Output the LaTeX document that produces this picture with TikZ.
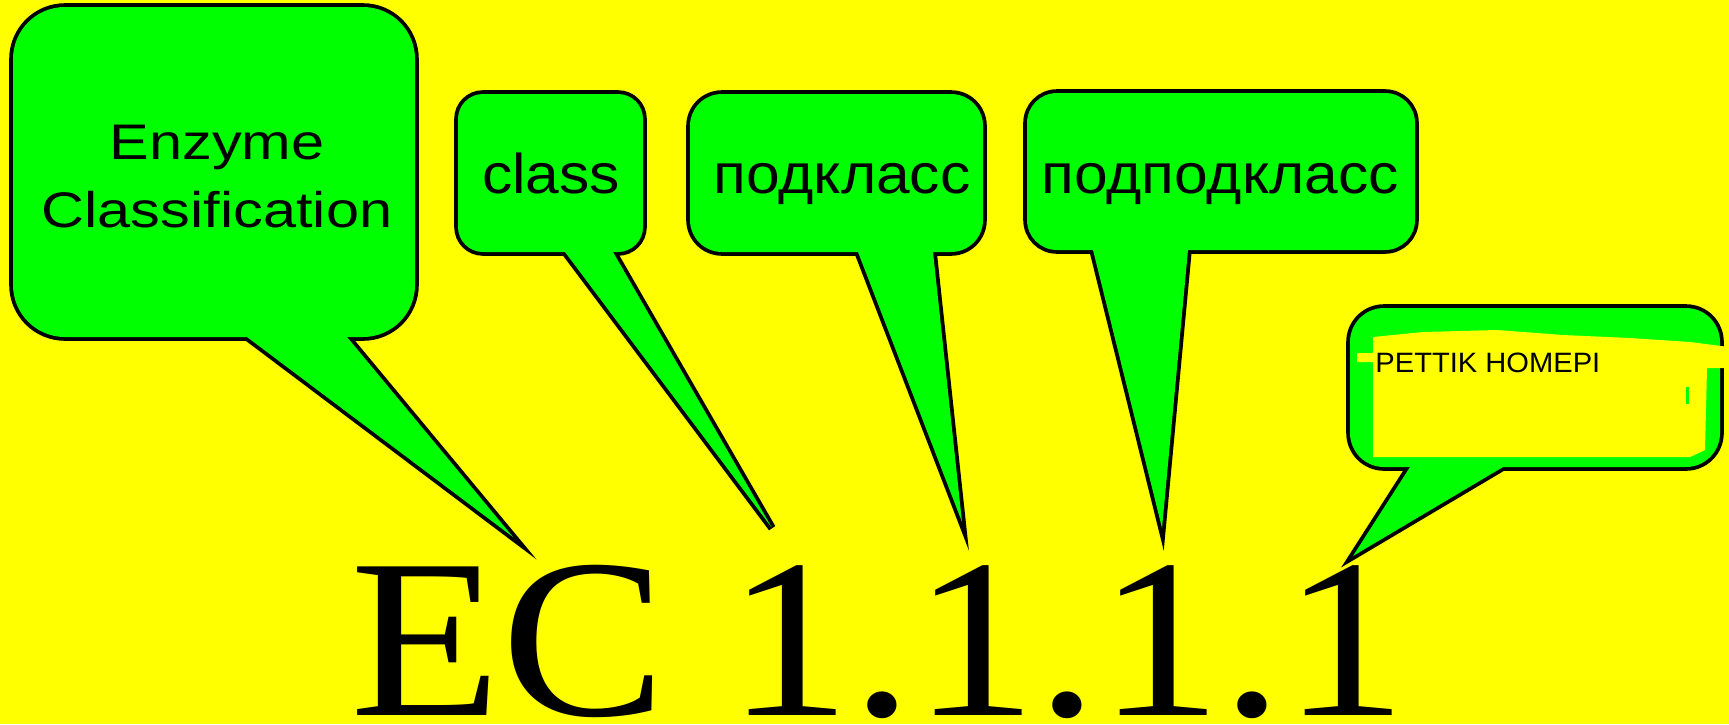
\documentclass[tikz,border=0pt]{standalone}
\usepackage{fontspec}
\usepackage{tikz}
\setmainfont{Liberation Serif}
\newfontfamily\ecfont[FakeStretch=1.088]{Liberation Serif}
\newfontfamily\enzfont[FakeStretch=1.19]{Liberation Sans}
\newfontfamily\boxfont[FakeStretch=1.08]{Liberation Sans}
\newfontfamily\thinfont[FakeStretch=1.04]{Liberation Sans}
\definecolor{bggreen}{RGB}{0,255,0}
\definecolor{bgyellow}{RGB}{255,255,0}

\begin{document}
\begin{tikzpicture}[x=0.5pt,y=-0.5pt,
  rim/.style={line width=3.8pt,line join=miter},
  lbl/.style={anchor=base,inner sep=0pt}]
\fill[bgyellow] (0,0) rectangle (1729,724) ;
\useasboundingbox (0,0) rectangle (1729,724) ;

\coordinate (t1) at (513,537) ;
\coordinate (t2) at (772,528) ;
\coordinate (t3) at (962,522) ;
\coordinate (t4) at (1162,528) ;
\coordinate (t5) at (1353,556) ;

% outline twice as wide, the green fill covers its inner half
\draw[rim,rounded corners=26pt] (13,7) rectangle (415,337) ;
\draw[rim] (247,337) -- (t1) -- (347,337) ;
\fill[bggreen,rounded corners=26pt] (13,7) rectangle (415,337) ;
\fill[bggreen] (247,337) -- (t1) -- (347,337) -- cycle ;

\draw[rim,rounded corners=12.5pt] (458,94) rectangle (643,252) ;
\draw[rim] (565,252) -- (t2) -- (613,252) ;
\fill[bggreen,rounded corners=12.5pt] (458,94) rectangle (643,252) ;
\fill[bggreen] (565,252) -- (t2) -- (613,252) -- cycle ;

\draw[rim,rounded corners=16pt] (690,94) rectangle (983,252) ;
\draw[rim] (858,252) -- (t3) -- (933,252) ;
\fill[bggreen,rounded corners=16pt] (690,94) rectangle (983,252) ;
\fill[bggreen] (858,252) -- (t3) -- (933,252) -- cycle ;

\draw[rim,rounded corners=15pt] (1027,93) rectangle (1415,250) ;
\draw[rim] (1093,250) -- (t4) -- (1188,250) ;
\fill[bggreen,rounded corners=15pt] (1027,93) rectangle (1415,250) ;
\fill[bggreen] (1093,250) -- (t4) -- (1188,250) -- cycle ;

\draw[rim,rounded corners=17pt] (1350,308) rectangle (1720,467) ;
\draw[rim] (1410,467) -- (t5) -- (1503,467) ;
\fill[bggreen,rounded corners=17pt] (1350,308) rectangle (1720,467) ;
\fill[bggreen] (1410,467) -- (t5) -- (1503,467) -- cycle ;
%\fill[bggreen] (1350,308) rectangle (1720,467) ;
\fill[bgyellow] (1373,337) -- (1423,332) -- (1497,330) -- (1563,335) -- (1630,338)
  -- (1690,342) -- (1729,347) -- (1729,368) -- (1707,368) -- (1705,450)
  -- (1690,457) -- (1373,457) -- (1373,362) -- (1357,362) -- (1357,353)
  -- (1373,353) -- cycle ;
\fill[bggreen] (1686,387) rectangle (1689,404) ;

\node[lbl,align=center,font=\enzfont\fontsize{25}{34}\selectfont] (enz) at (217,227) {Enzyme\\Classification} ;
\node[lbl,font=\boxfont\fontsize{28}{34}\selectfont] (cls) at (551,193) {class} ;
\node[lbl,font=\boxfont\fontsize{28}{34}\selectfont] (sub) at (842,193) {подкласс} ;
\node[lbl,font=\boxfont\fontsize{28}{34}\selectfont] (subsub) at (1220,193) {подподкласс} ;
\node[lbl,anchor=base west,font=\thinfont\fontsize{14}{17}\selectfont] (num) at (1375,372) {PETTIK HOMEPI} ;
\node[lbl,anchor=base west,text depth=0pt,font=\ecfont\fontsize{113.5}{130}\selectfont] (ec) at (350,715) {EC 1.1.1.1} ;
\end{tikzpicture}
\end{document}
